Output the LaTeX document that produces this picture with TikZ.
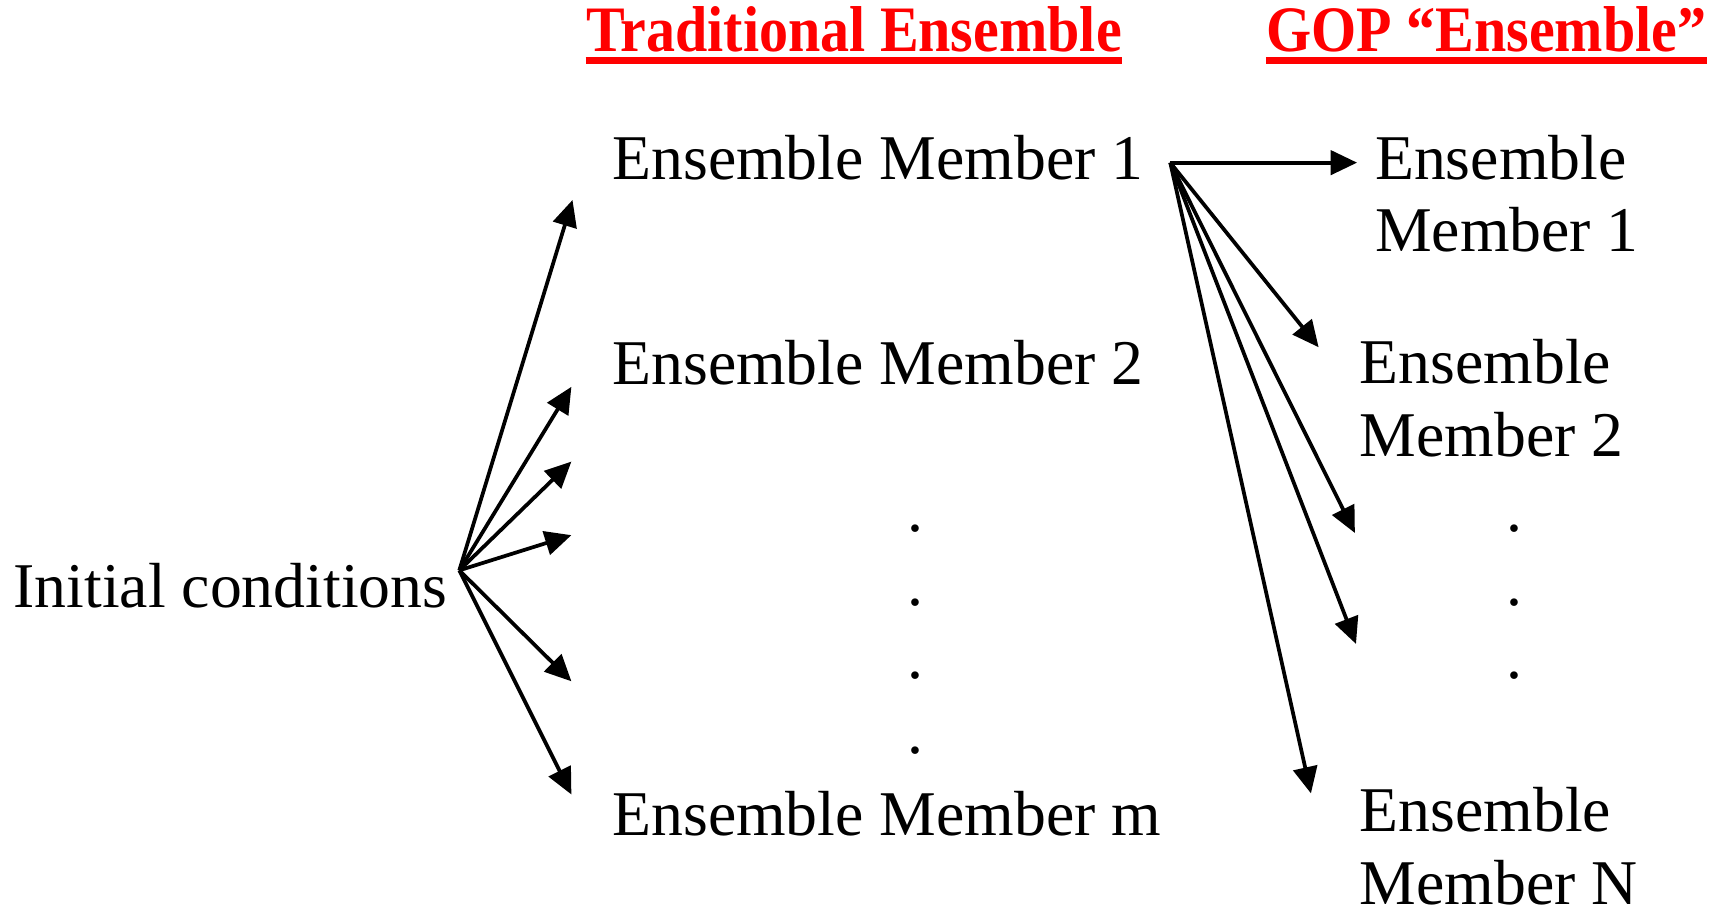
\documentclass[tikz,border=0pt]{standalone}
\usepackage{fontspec}
\usepackage{graphicx}
\setmainfont{Liberation Serif}
\usetikzlibrary{arrows.meta}
\definecolor{titlered}{RGB}{255,0,0}
\tikzset{
  txt/.style={inner sep=0pt, font=\fontsize{29}{33}\selectfont, align=left},
  ttl/.style={inner sep=0pt, text=titlered, font=\fontsize{29.5}{33}\selectfont\bfseries},
  ul/.style={titlered, line width=3pt},
  arr/.style={line width=1.7pt, -{Triangle[length=12pt,width=11pt]}},
  dotn/.style={inner sep=0pt, font=\fontsize{29}{33}\selectfont}
}
\begin{document}
\begin{tikzpicture}[x=0.5pt,y=-0.5pt]
\useasboundingbox (0,0) rectangle (1568,827);
% titles
\node[ttl, anchor=base west] (t1) at (533,47) {\scalebox{0.895}[1]{Traditional Ensemble}};
\node[ttl, anchor=base west] (t2) at (1152,47) {\scalebox{0.895}[1]{GOP “Ensemble”}};
\draw[ul] ([yshift=-4pt]t1.base west) -- ([yshift=-4pt]t1.base east);
\draw[ul] ([yshift=-4pt]t2.base west) -- ([yshift=-4pt]t2.base east);
% left texts
\node[txt, anchor=base west] (ic) at (12,553) {Initial conditions};
\node[txt, anchor=base west] (e1) at (557,163) {Ensemble Member 1};
\node[txt, anchor=base west] (e2) at (557,350) {Ensemble Member 2};
\node[txt, anchor=base west] (em) at (557,760) {Ensemble Member m};
\node[dotn, anchor=base] (d1) at (833,484) {.};
\node[dotn, anchor=base] (d2) at (833,551) {.};
\node[dotn, anchor=base] (d3) at (833,617) {.};
\node[dotn, anchor=base] (d4) at (833,686) {.};
% right texts (base = baseline of last line)
\node[txt, anchor=base west] (g1) at (1251,229) {Ensemble\\Member 1};
\node[txt, anchor=base west] (g2) at (1237,415) {Ensemble\\Member 2};
\node[txt, anchor=base west] (gn) at (1237,823) {Ensemble\\Member N};
\node[dotn, anchor=base] (r1) at (1378,484) {.};
\node[dotn, anchor=base] (r2) at (1378,551) {.};
\node[dotn, anchor=base] (r3) at (1378,617) {.};
% fan origins and tips
\coordinate (lo) at (418,519);
\coordinate (l1) at (521,182);
\coordinate (l2) at (520,352);
\coordinate (l3) at (520,420);
\coordinate (l4) at (520,487);
\coordinate (l5) at (520,620);
\coordinate (l6) at (520,723);
\coordinate (ro) at (1065,148);
\coordinate (q1) at (1235,148);
\coordinate (q2) at (1200,316);
\coordinate (q3) at (1233,485);
\coordinate (q4) at (1234,586);
\coordinate (q5) at (1193,722);
\foreach \t in {l1,l2,l3,l4,l5,l6} \draw[arr] (lo) -- (\t);
\foreach \t in {q1,q2,q3,q4,q5} \draw[arr] (ro) -- (\t);
\end{tikzpicture}
\end{document}
